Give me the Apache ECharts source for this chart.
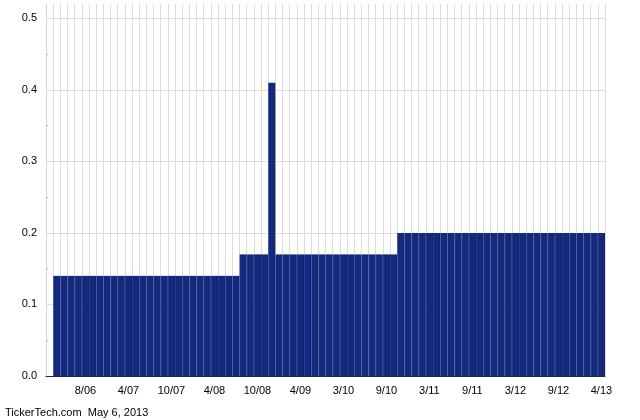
<!DOCTYPE html>
<html>
<head>
<meta charset="utf-8">
<script src="https://cdn.jsdelivr.net/npm/echarts@6/dist/echarts.min.js"></script>
<style>
html,body{margin:0;padding:0;background:#fff;}
#chart{width:640px;height:420px;}
</style>
</head>
<body>
<div id="chart"></div>
<script>
// Dividend payment dates (one bar each)
const payDates = [
  '4/06','5/06','6/06','7/06','8/06','9/06','10/06','12/06','1/07','3/07','4/07',
  '5/07','6/07','7/07','8/07','9/07','10/07',
  '11/07','12/07','1/08','2/08','3/08','4/08',
  '5/08','6/08','7/08','8/08','9/08','10/08',
  '11/08','12/08','1/09','2/09','3/09','4/09',
  '6/09','8/09','10/09','12/09','2/10','3/10',
  '4/10','5/10','6/10','7/10','8/10','9/10',
  '10/10','11/10','12/10','1/11','2/11','3/11',
  '4/11','5/11','6/11','7/11','8/11','9/11',
  '10/11','11/11','12/11','1/12','2/12','3/12',
  '4/12','5/12','6/12','7/12','8/12','9/12',
  '10/12','11/12','12/12','1/13','3/13','4/13'
];
// Dividend amounts
const dividends = [
  0.14,0.14,0.14,0.14,0.14,0.14,0.14,0.14,0.14,0.14,0.14,
  0.14,0.14,0.14,0.14,0.14,0.14,
  0.14,0.14,0.14,0.14,0.14,0.14,
  0.14,0.14,0.14,0.17,0.17,0.17,
  0.17,0.41,0.17,0.17,0.17,0.17,
  0.17,0.17,0.17,0.17,0.17,0.17,
  0.17,0.17,0.17,0.17,0.17,0.17,
  0.17,0.20,0.20,0.20,0.20,0.20,
  0.20,0.20,0.20,0.20,0.20,0.20,
  0.20,0.20,0.20,0.20,0.20,0.20,
  0.20,0.20,0.20,0.20,0.20,0.20,
  0.20,0.20,0.20,0.20,0.20,0.20
];
const yTicks = [0, 0.1, 0.2, 0.3, 0.4, 0.5];
const footer = 'TickerTech.com  May 6, 2013';

// axis starts one empty slot before the first payment
const xData = [''].concat(payDates);
const yData = [null].concat(dividends);

const chart = echarts.init(document.getElementById('chart'), null, {renderer: 'canvas'});
const font = '"Liberation Sans", Arial, Helvetica, sans-serif';

chart.setOption({
  animation: false,
  backgroundColor: '#ffffff',
  textStyle: {fontFamily: font},
  grid: {left: 46, right: 35, top: 4, bottom: 44, containLabel: false},
  xAxis: {
    type: 'category',
    data: xData,
    boundaryGap: true,
    axisLine: {show: true, lineStyle: {color: '#1a2560', width: 1}},
    axisTick: {show: false, interval: 0},
    axisLabel: {
      interval: function (i) { return i % 6 === 5; },
      color: '#000', fontSize: 11, fontFamily: font, margin: 9
    },
    splitLine: {show: true, interval: 0, lineStyle: {color: '#dcdcdc', width: 1}}
  },
  yAxis: {
    type: 'value',
    min: 0,
    max: 0.52,
    interval: 0.1,
    axisLine: {show: true, lineStyle: {color: '#d4d4d4'}},
    axisTick: {show: false, inside: true},
    minorTick: {show: true, splitNumber: 2, length: 2, lineStyle: {color: '#bbbbbb'}},
    axisLabel: {
      color: '#000', fontSize: 11, fontFamily: font, margin: 9,
      formatter: function (v) {
        for (const t of yTicks) { if (Math.abs(v - t) < 1e-6) return t.toFixed(1); }
        return '';
      }
    },
    splitLine: {show: true, showMaxLine: false, lineStyle: {color: '#dcdcdc', width: 1}}
  },
  series: [{
    type: 'bar',
    data: yData,
    barCategoryGap: '0%',
    itemStyle: {
      color: {
        type: 'linear', x: 0, y: 0, x2: 1, y2: 0,
        colorStops: [
          {offset: 0, color: '#2c4ac4'},
          {offset: 0.16, color: '#15297a'},
          {offset: 0.84, color: '#15297a'},
          {offset: 1, color: '#0e1b55'}
        ]
      }
    }
  }],
  graphic: [{
    type: 'text',
    left: 5,
    top: 407,
    style: {text: footer, fill: '#000', fontSize: 11, fontFamily: font}
  }]
});
</script>
</body>
</html>
